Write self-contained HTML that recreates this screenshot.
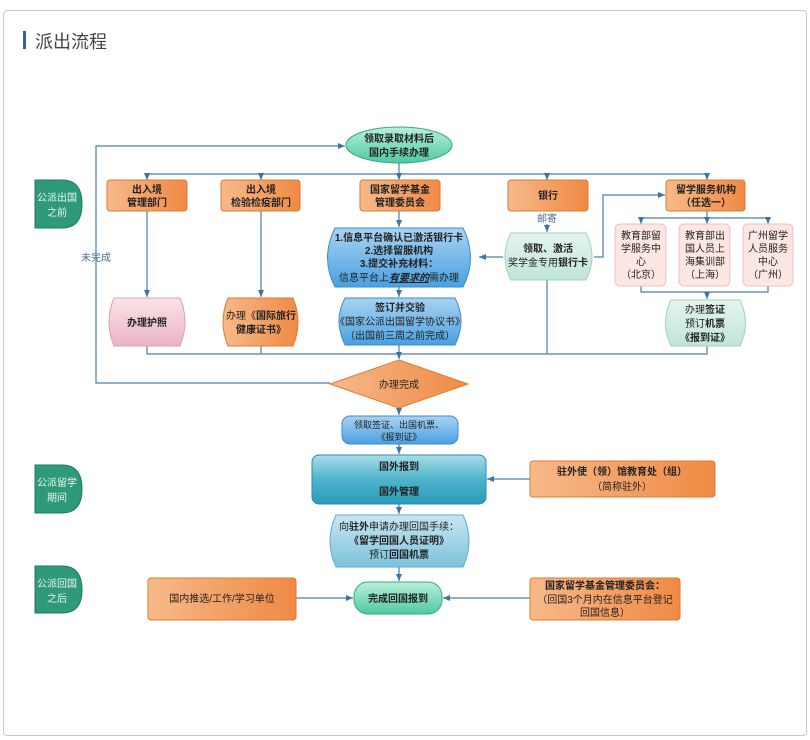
<!DOCTYPE html>
<html><head><meta charset="utf-8"><style>
body{margin:0;background:#fff;width:810px;height:740px;overflow:hidden;font-family:"Liberation Sans","Noto Sans CJK SC",sans-serif}
.frame{position:absolute;left:3px;top:10px;width:802px;height:724px;border:1px solid #c8c8c8;border-radius:4px}
.bar{position:absolute;left:23px;top:31px;width:3px;height:18px;background:#2d62b0}
.title{position:absolute;left:35px;top:28px;font-size:18px;color:#444}
svg{position:absolute;left:0;top:0}
text{font-family:"Liberation Sans","Noto Sans CJK SC",sans-serif;font-size:10px;fill:#222;text-anchor:middle}
.b{font-weight:bold}
.w{fill:#e8f4ee}
</style></head><body>
<div class="frame"></div><div class="bar"></div><div class="title">派出流程</div>
<svg width="810" height="740" viewBox="0 0 810 740">
<defs>
<linearGradient id="or" x1="0" y1="0" x2="1" y2="0"><stop offset="0" stop-color="#f7b98a"/><stop offset="1" stop-color="#ef8a44"/></linearGradient>
<linearGradient id="bl" x1="0" y1="0" x2="0" y2="1"><stop offset="0" stop-color="#a9d3f2"/><stop offset="1" stop-color="#4aa0e0"/></linearGradient>
<linearGradient id="mint" x1="0" y1="0" x2="0" y2="1"><stop offset="0" stop-color="#e6f5ee"/><stop offset="1" stop-color="#bfe5d5"/></linearGradient>
<linearGradient id="tl" x1="0" y1="0" x2="0" y2="1"><stop offset="0" stop-color="#b8f0dc"/><stop offset="1" stop-color="#4fcaa0"/></linearGradient>
<linearGradient id="pk" x1="0" y1="0" x2="0" y2="1"><stop offset="0" stop-color="#fbe3e8"/><stop offset="1" stop-color="#eab4c4"/></linearGradient>
<linearGradient id="dt" x1="0" y1="0" x2="0" y2="1"><stop offset="0" stop-color="#a8dde8"/><stop offset="0.5" stop-color="#4fb3cb"/><stop offset="1" stop-color="#2a9cb8"/></linearGradient>
<linearGradient id="lb" x1="0" y1="0" x2="0" y2="1"><stop offset="0" stop-color="#c8e6f0"/><stop offset="1" stop-color="#7cc3dc"/></linearGradient>
<marker id="a" markerWidth="8" markerHeight="8" refX="7" refY="4" orient="auto" markerUnits="userSpaceOnUse"><path d="M0,1 L7,4 L0,7z" fill="#3a74a8"/></marker>
</defs>
<g stroke="#4a7fa8" stroke-width="1.2" fill="none">
<path d="M330,383 H96 V146 H345" marker-end="url(#a)"/>
<path d="M147,174 H707"/>
<path d="M147,174 V180" marker-end="url(#a)"/><path d="M261,174 V180" marker-end="url(#a)"/>
<path d="M399,163 V180" marker-end="url(#a)"/><path d="M547,174 V180" marker-end="url(#a)"/><path d="M707,174 V180" marker-end="url(#a)"/>
<path d="M147,211 V297" marker-end="url(#a)"/><path d="M261,211 V297" marker-end="url(#a)"/>
<path d="M399,211 V227" marker-end="url(#a)"/><path d="M399,287 V297" marker-end="url(#a)"/>
<path d="M547,224 V232" marker-end="url(#a)"/>
<path d="M503,257 H479" marker-end="url(#a)"/>
<path d="M594,257 H603 V195 H665" marker-end="url(#a)"/>
<path d="M707,211 V218 M641,218 H768"/>
<path d="M641,218 V224" marker-end="url(#a)"/><path d="M707,218 V224" marker-end="url(#a)"/><path d="M768,218 V224" marker-end="url(#a)"/>
<path d="M641,286 V292 H768 V286 M707,292 V299" marker-end="url(#a)"/>
<path d="M147,346 V354 H707 V346 M261,346 V354 M547,280 V354"/>
<path d="M399,345 V359" marker-end="url(#a)"/>
<path d="M399,408 V415" marker-end="url(#a)"/>
<path d="M399,444 V454" marker-end="url(#a)"/>
<path d="M530,479 H487" marker-end="url(#a)"/>
<path d="M399,504 V514" marker-end="url(#a)"/>
<path d="M399,567 V581" marker-end="url(#a)"/>
<path d="M296,598 H353" marker-end="url(#a)"/>
<path d="M530,598 H443" marker-end="url(#a)"/>
</g>
<text x="96" y="261" style="fill:#4a6f90">未完成</text>
<text x="547" y="222" style="fill:#4a6f90">邮寄</text>
<!-- stage tabs -->
<g fill="#2f9a7a" stroke="#1e7a5e">
<path d="M35,180 H62 Q82,180 82,204 Q82,228 62,228 H35z"/>
<path d="M35,465 H62 Q82,465 82,489 Q82,513 62,513 H35z"/>
<path d="M35,566 H62 Q82,566 82,590 Q82,613 62,613 H35z"/>
</g>
<text x="57" y="201" class="w" style="fill:#e8f4ee">公派出国</text><text x="57" y="216" style="fill:#e8f4ee">之前</text>
<text x="57" y="486" style="fill:#e8f4ee">公派留学</text><text x="57" y="501" style="fill:#e8f4ee">期间</text>
<text x="57" y="587" style="fill:#e8f4ee">公派回国</text><text x="57" y="602" style="fill:#e8f4ee">之后</text>
<!-- top ellipse -->
<ellipse cx="399" cy="145" rx="53" ry="18" fill="url(#tl)" stroke="#3aa882"/>
<text x="399" y="142" class="b">领取录取材料后</text><text x="399" y="156" class="b">国内手续办理</text>
<!-- orange row -->
<g fill="url(#or)" stroke="#e07a30">
<rect x="107" y="180" width="80" height="31" rx="3"/><rect x="221" y="180" width="79" height="31" rx="3"/>
<rect x="360" y="180" width="80" height="31" rx="3"/><rect x="508" y="180" width="80" height="31" rx="3"/>
<rect x="666" y="180" width="79" height="31" rx="3"/>
</g>
<text x="147" y="193" class="b">出入境</text><text x="147" y="206" class="b">管理部门</text>
<text x="261" y="193" class="b">出入境</text><text x="261" y="206" class="b">检验检疫部门</text>
<text x="400" y="193" class="b">国家留学基金</text><text x="400" y="206" class="b">管理委员会</text>
<text x="548" y="199" class="b">银行</text>
<text x="706" y="193" class="b">留学服务机构</text><text x="706" y="206" class="b">（任选一）</text>
<!-- big blue -->
<path d="M335,228 H463 Q478,258 463,287 H335 Q320,258 335,228z" fill="url(#bl)" stroke="#3a8cd0"/>
<text x="399" y="241" class="b">1.信息平台确认已激活银行卡</text>
<text x="399" y="254" class="b">2.选择留服机构</text>
<text x="399" y="267" class="b">3.提交补充材料：</text>
<text x="399" y="281">信息平台上<tspan font-weight="bold" font-style="italic" text-decoration="underline">有要求的</tspan>需办理</text>
<path d="M345,298 H455 Q467,321 455,345 H345 Q333,321 345,298z" fill="url(#bl)" stroke="#3a8cd0"/>
<text x="400" y="311" class="b">签订并交验</text><text x="400" y="325">《国家公派出国留学协议书》</text><text x="400" y="339">（出国前三周之前完成）</text>
<!-- pink / orange lower -->
<path d="M114,298 H180 Q190,322 180,346 H114 Q104,322 114,298z" fill="url(#pk)" stroke="#dca0b2"/>
<text x="147" y="326" class="b">办理护照</text>
<path d="M228,298 H293 Q303,322 293,346 H228 Q218,322 228,298z" fill="url(#or)" stroke="#e07a30"/>
<text x="261" y="319">办理《<tspan font-weight="bold">国际旅行</tspan></text><text x="261" y="333" class="b">健康证书》</text>
<!-- mint -->
<path d="M511,233 H586 Q598,257 586,280 H511 Q499,257 511,233z" fill="url(#mint)" stroke="#9fd3bd"/>
<text x="548" y="252" class="b">领取、激活</text><text x="548" y="266">奖学金专用<tspan font-weight="bold">银行卡</tspan></text>
<!-- three pink -->
<g fill="#fce6e2" stroke="#e8c4bc">
<rect x="615" y="224" width="51" height="62" rx="5"/><rect x="679" y="224" width="51" height="62" rx="5"/><rect x="743" y="224" width="50" height="62" rx="5"/>
</g>
<text x="641" y="239">教育部留</text><text x="641" y="252">学服务中</text><text x="641" y="265">心</text><text x="641" y="278">（北京）</text>
<text x="705" y="239">教育部出</text><text x="705" y="252">国人员上</text><text x="705" y="265">海集训部</text><text x="705" y="278">（上海）</text>
<text x="768" y="239">广州留学</text><text x="768" y="252">人员服务</text><text x="768" y="265">中心</text><text x="768" y="278">（广州）</text>
<path d="M671,300 H740 Q751,323 740,346 H671 Q660,323 671,300z" fill="url(#mint)" stroke="#9fd3bd"/>
<text x="705" y="313">办理<tspan font-weight="bold">签证</tspan></text><text x="705" y="327">预订<tspan font-weight="bold">机票</tspan></text><text x="705" y="341" class="b">《报到证》</text>
<!-- diamond -->
<path d="M399,360 L468,384 L399,408 L330,384z" fill="url(#or)" stroke="#e07a30"/>
<text x="399" y="388">办理完成</text>
<rect x="342" y="416" width="116" height="28" rx="8" fill="url(#bl)" stroke="#3a8cd0"/>
<text x="399" y="428" style="font-size:9px">领取签证、出国机票、</text><text x="399" y="440" style="font-size:9px">《报到证》</text>
<rect x="312" y="455" width="174" height="49" rx="7" fill="url(#dt)" stroke="#2a8ca8"/>
<text x="399" y="470" class="b">国外报到</text><text x="399" y="495" class="b">国外管理</text>
<rect x="530" y="461" width="185" height="36" rx="3" fill="url(#or)" stroke="#e07a30"/>
<text x="622" y="475" class="b">驻外使（领）馆教育处（组）</text><text x="622" y="490">（简称驻外）</text>
<path d="M336,515 H463 Q475,541 463,567 H336 Q324,541 336,515z" fill="url(#lb)" stroke="#5aaed0"/>
<text x="399" y="530">向<tspan font-weight="bold">驻外</tspan>申请办理回国手续：</text><text x="399" y="544" class="b">《留学回国人员证明》</text><text x="399" y="558">预订<tspan font-weight="bold">回国机票</tspan></text>
<rect x="354" y="582" width="88" height="32" rx="14" fill="url(#tl)" stroke="#3aa882"/>
<text x="398" y="602" class="b">完成回国报到</text>
<rect x="148" y="578" width="148" height="42" rx="3" fill="url(#or)" stroke="#e07a30"/>
<text x="222" y="602">国内推选/工作/学习单位</text>
<rect x="530" y="578" width="150" height="42" rx="3" fill="url(#or)" stroke="#e07a30"/>
<text x="605" y="589" class="b">国家留学基金管理委员会：</text><text x="605" y="603">（回国3个月内在信息平台登记</text><text x="605" y="616">回国信息）</text>
</svg>
</body></html>
